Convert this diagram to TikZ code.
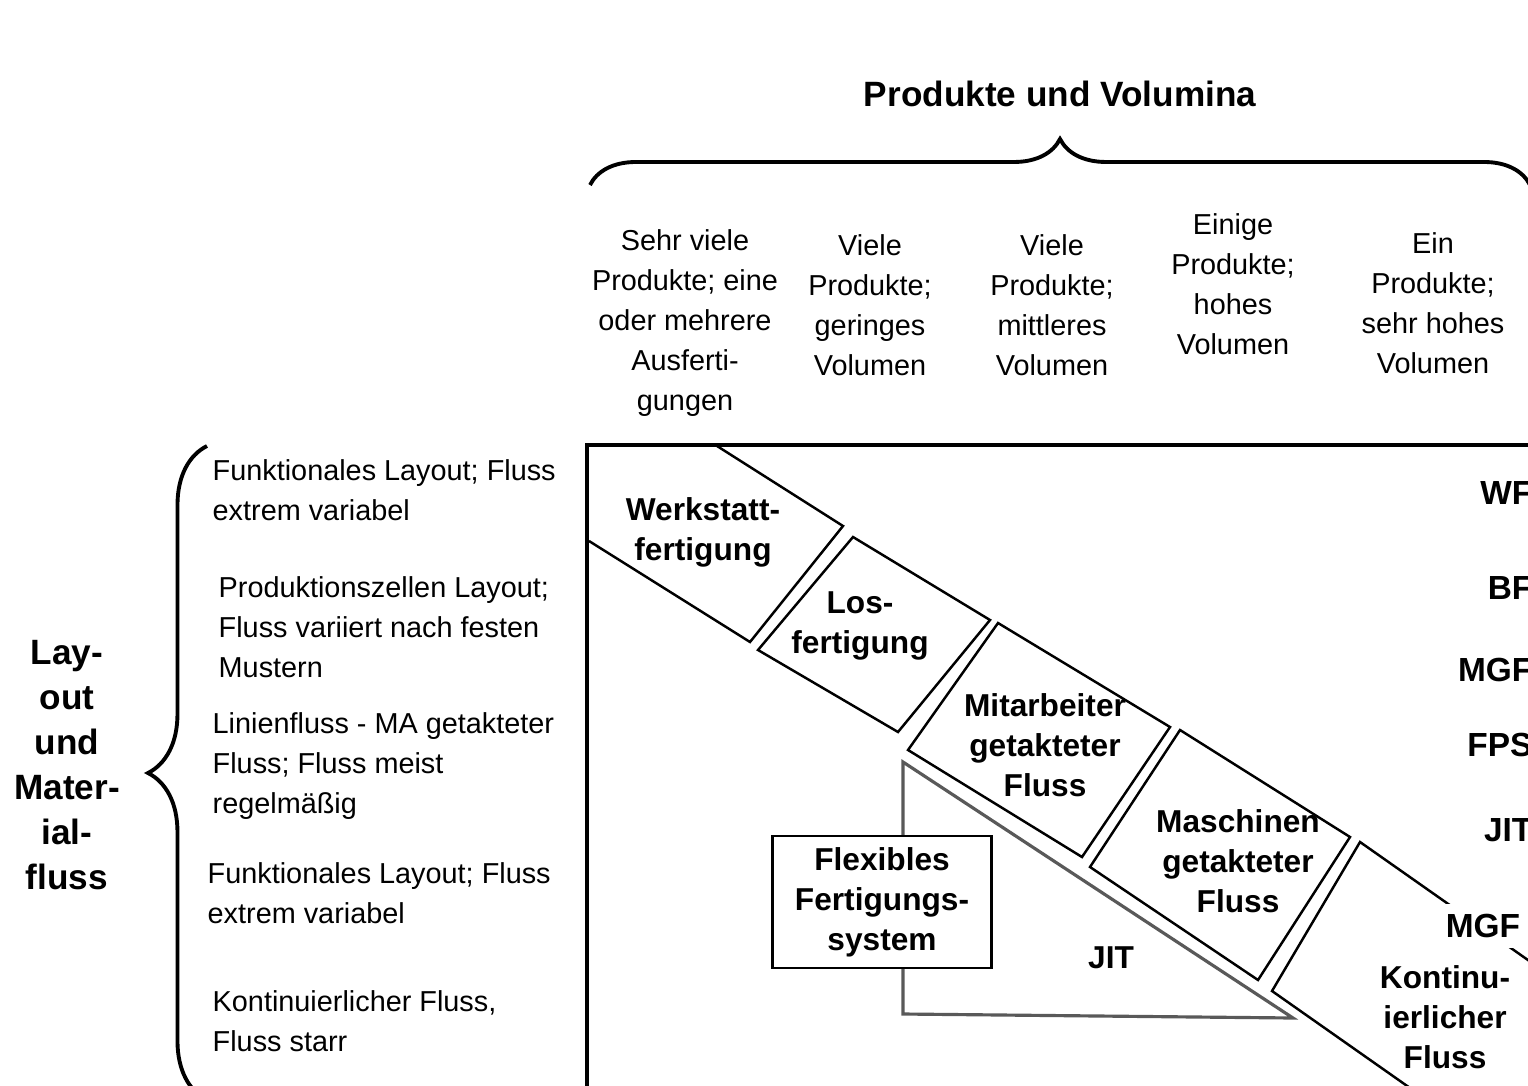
\documentclass[tikz,border=0pt]{standalone}
\usepackage{fontspec}
\setmainfont{Liberation Sans}
\usetikzlibrary{decorations.pathreplacing}

\begin{document}
\begin{tikzpicture}[x=0.01cm, y=-0.01cm,
    txt/.style={font=\fontsize{8.2}{11.4}\selectfont, inner sep=0pt},
    boxtxt/.style={font=\fontsize{9}{11.4}\selectfont\bfseries, inner sep=0pt, align=center},
    sidelbl/.style={font=\fontsize{9.5}{11.4}\selectfont\bfseries, inner sep=0pt, anchor=east},
    band/.style={line width=0.7pt, line join=miter},
    bracket/.style={line width=1.1pt, decorate}]
    \useasboundingbox (0,0) rectangle (1528,1085);
    \clip (0,0) rectangle (1528,1085);

    % Titles and braces
    \node (title) [font=\fontsize{10}{12}\selectfont\bfseries] at (1060,94) {Produkte und Volumina};
    \draw[bracket, decoration={brace, amplitude=0.46cm}] (590,185) -- (1530,185);
    \node (axis) [font=\fontsize{10}{12.8}\selectfont\bfseries, align=center, inner sep=0pt] at (67,765)
        {Lay-\\out\\und\\Mater-\\ial-\\fluss};
    \draw[bracket, decoration={brace, amplitude=0.59cm}] (207,1100) -- (207,446);

    % Column headers
    \node (col1) [txt, align=center] at (685,323) {Sehr viele\\Produkte; eine\\oder mehrere\\Ausferti-\\gungen};
    \node (col2) [txt, align=center] at (870,305) {Viele\\Produkte;\\geringes\\Volumen};
    \node (col3) [txt, align=center] at (1052,305) {Viele\\Produkte;\\mittleres\\Volumen};
    \node (col4) [txt, align=center] at (1233,284) {Einige\\Produkte;\\hohes\\Volumen};
    \node (col5) [txt, align=center] at (1433,303) {Ein\\Produkte;\\sehr hohes\\Volumen};

    % Row descriptions
    \node (row1) [txt, align=left, anchor=west] at (212,490) {Funktionales Layout; Fluss\\extrem variabel};
    \node (row2) [txt, align=left, anchor=west] at (218,627) {Produktionszellen Layout;\\Fluss variiert nach festen\\Mustern};
    \node (row3) [txt, align=left, anchor=west] at (212,766) {Linienfluss - MA getakteter\\Fluss; Fluss meist\\regelmäßig};
    \node (row4) [txt, align=left, anchor=west] at (207,893) {Funktionales Layout; Fluss\\extrem variabel};
    \node (row5) [txt, align=left, anchor=west] at (212,1021) {Kontinuierlicher Fluss,\\Fluss starr};

    % Matrix frame
    \draw[line width=1.2pt] (1560,445) -- (587,445) -- (587,1110);

    % Diagonal band
    \draw[band] (717,446) -- (843,526) -- (750,642) -- (589,541);
    \draw[band] (853,537) -- (990,620) -- (898,732) -- (758,650) -- cycle;
    \draw[band] (998,623) -- (1170,727) -- (1082,857) -- (908,750) -- cycle;
    \draw[band] (1180,730) -- (1350,837) -- (1258,980) -- (1090,867) -- cycle;
    \draw[band] (1545,972) -- (1360,842) -- (1272,991) -- (1420,1095);

    % JIT triangle and FFS box
    \draw[line width=0.9pt, black!65] (903,762) -- (1293,1018) -- (903,1014) -- cycle;
    \node (ffs) [boxtxt, draw, fill=white, line width=0.7pt, minimum width=2.19cm, minimum height=1.32cm]
        at (882,902) {Flexibles\\Fertigungs-\\system};
    \node (jit) [boxtxt] at (1111,958) {JIT};

    % Band labels
    \node (wf) [boxtxt] at (703,532) {Werkstatt-\\fertigung};
    \node (bf) [boxtxt] at (860,626) {Los-\\fertigung};
    \node (mgf) [boxtxt] at (1045,745) {Mitarbeiter\\getakteter\\Fluss};
    \node (mmf) [boxtxt] at (1238,861) {Maschinen\\getakteter\\Fluss};
    \node (kf) [boxtxt] at (1445,1017) {Kontinu-\\ierlicher\\Fluss};

    % Abbreviations on the right
    \node (abbwf) [sidelbl] at (1533,493) {WF};
    \node (abbbf) [sidelbl] at (1533,588) {BF};
    \node (abbmgf) [sidelbl] at (1533,670) {MGF};
    \node (abbfps) [sidelbl] at (1533,745) {FPS};
    \node (abbjit) [sidelbl] at (1533,830) {JIT};
    \node (abbmgf2) [sidelbl, anchor=center, fill=white, inner sep=3pt] at (1483,926) {MGF};
\end{tikzpicture}
\end{document}
